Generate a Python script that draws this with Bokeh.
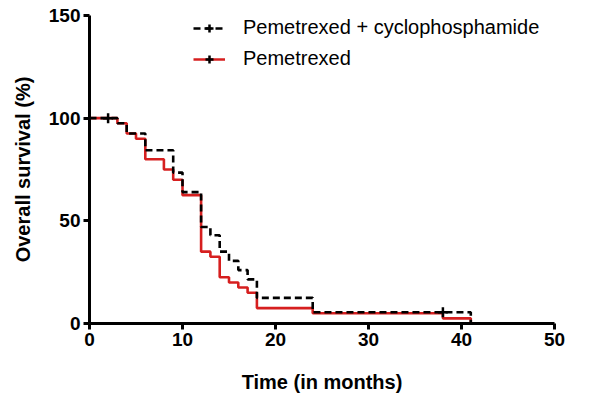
from bokeh.plotting import figure
from bokeh.models import Range1d, FixedTicker, Legend, LegendItem
from bokeh.embed import file_html
from bokeh.resources import INLINE

# Kaplan-Meier step data (months, overall survival %)
months_combo = [0, 3, 4, 6, 9, 10, 12, 13, 14, 15, 16, 17, 18, 24, 41]
surv_combo = [100, 97.5, 92.5, 84.4, 73.5, 64, 47, 43, 35, 30.5, 26, 21.5, 12.5, 5.5, 0]

months_pem = [0, 3, 4, 5, 6, 8, 9, 10, 12, 13, 14, 15, 16, 17, 18, 24, 38, 41]
surv_pem = [100, 97.5, 92.5, 90, 80, 75, 70, 62.5, 35, 32.5, 22.5, 20, 17.5, 15, 7.5, 5, 2.5, 0]

# censored observations (tick marks)
cens_t = [2, 38]
cens_s = [100, 5.5]

x_ticks = [0, 10, 20, 30, 40, 50]
y_ticks = [0, 50, 100, 150]

label_combo = "Pemetrexed + cyclophosphamide"
label_pem = "Pemetrexed"

RED = "#d61f1f"
FONT = "Liberation Sans"

p = figure(width=600, height=403, output_backend="svg", toolbar_location=None,
           x_range=Range1d(0, 50), y_range=Range1d(0, 150),
           min_border_left=89, min_border_right=46, min_border_top=15, min_border_bottom=80)

p.outline_line_color = None
p.grid.visible = False

for ax in (p.xaxis[0], p.yaxis[0]):
    ax.axis_line_width = 3
    ax.axis_line_color = "black"
    ax.major_tick_line_width = 3
    ax.major_tick_line_color = "black"
    ax.major_tick_out = 6
    ax.major_tick_in = 0
    ax.minor_tick_line_color = None
    ax.major_label_text_font = FONT
    ax.major_label_text_font_style = "bold"
    ax.major_label_text_font_size = "19px"
    ax.major_label_text_color = "black"
    ax.axis_label_text_font = FONT
    ax.axis_label_text_font_style = "bold"
    ax.axis_label_text_color = "black"
    ax.axis_label_text_font_size = "20px"

p.xaxis.ticker = FixedTicker(ticks=x_ticks)
p.yaxis.ticker = FixedTicker(ticks=y_ticks)
p.xaxis.axis_label = "Time (in months)"
p.yaxis.axis_label = "Overall survival (%)"
p.xaxis.major_label_standoff = 3
p.yaxis.major_label_standoff = 3
p.xaxis.axis_label_standoff = 22
p.yaxis.axis_label_standoff = 12

r_pem = p.step(months_pem, surv_pem, mode="after", line_color=RED, line_width=2.6)
r_combo = p.step(months_combo, surv_combo, mode="after", line_color="black", line_width=2.6,
                 line_dash="7 4")
r_cens = p.scatter(cens_t, cens_s, marker="cross", size=10,
                   line_color="black", line_width=2.5)

legend = Legend(items=[LegendItem(label=label_combo, renderers=[r_combo, r_cens]),
                       LegendItem(label=label_pem, renderers=[r_pem, r_cens])],
                location=(104, 253))
legend.background_fill_alpha = 0
legend.border_line_alpha = 0
legend.padding = 0
legend.margin = 0
legend.spacing = 8
legend.glyph_width = 32
legend.glyph_height = 20
legend.label_height = 20
legend.label_standoff = 18
legend.label_text_font = FONT
legend.label_text_font_size = "20px"
legend.label_text_color = "black"
p.add_layout(legend, "center")

open("out.html", "w").write(file_html(p, INLINE))
